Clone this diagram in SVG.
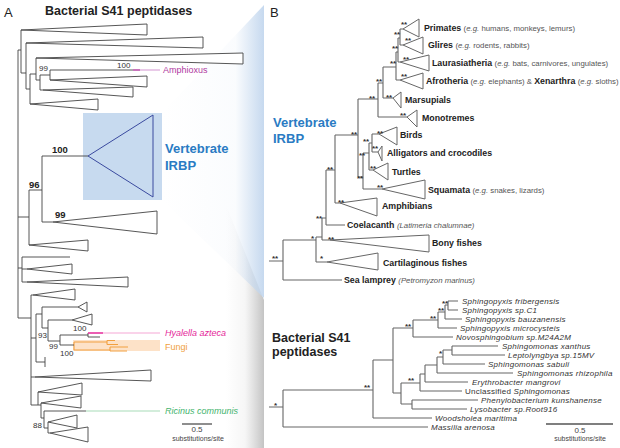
<svg xmlns="http://www.w3.org/2000/svg" width="620" height="448" viewBox="0 0 620 448">
<defs>
<linearGradient id="gBlue" gradientUnits="userSpaceOnUse" x1="162" y1="0" x2="264" y2="0">
<stop offset="0" stop-color="#c3d7ee" stop-opacity="0"/>
<stop offset="0.72" stop-color="#c3d7ee" stop-opacity="0.08"/>
<stop offset="1" stop-color="#c3d7ee" stop-opacity="0.95"/>
</linearGradient>
<linearGradient id="gGrey" gradientUnits="userSpaceOnUse" x1="226" y1="0" x2="264" y2="0">
<stop offset="0" stop-color="#c4c4c4" stop-opacity="0"/>
<stop offset="0.5" stop-color="#c4c4c4" stop-opacity="0.15"/>
<stop offset="1" stop-color="#bdbdbd" stop-opacity="0.9"/>
</linearGradient>
<style>
text{font-family:"Liberation Sans",Arial,Helvetica,sans-serif}
.ln{stroke:#444;stroke-width:0.9;fill:none}
.tri{stroke:#444;stroke-width:0.9;fill:#fff}
.lnB{stroke:#666;stroke-width:1.1;fill:none}
.triB{stroke:#666;stroke-width:1;fill:#fff}
.sup{font-size:8px;fill:#333}
.supb{font-size:9.5px;font-weight:bold;fill:#222}
.st{font-size:8px;font-weight:bold;fill:#333}
.lab{font-size:8.8px;font-weight:bold;fill:#222}
.par{font-size:7.8px;font-weight:normal;fill:#555}
.it{font-style:italic}
.sp{font-size:8px;font-style:italic;fill:#333;letter-spacing:0.25px}
.vb{font-size:13px;font-weight:bold;fill:#2a7bc3}
.ttl{font-size:12.5px;font-weight:bold;fill:#222}
.pl{font-size:13px;fill:#222}
.sc{font-size:8px;fill:#444;text-anchor:middle}
.sc2{font-size:7px;fill:#444;text-anchor:middle}
</style>
</defs>
<rect width="620" height="448" fill="#fff"/>

<g id="zoom-wedges">
<polygon points="226,205 264,300 264,448 226,448" fill="url(#gGrey)"/>
<polygon points="162,113 264,5 264,298 162,200" fill="url(#gBlue)"/>
</g>

<g id="panel-labels">
<text class="pl" x="4" y="17">A</text>
<text class="pl" x="270" y="17">B</text>
<text class="ttl" x="45" y="15">Bacterial S41 peptidases</text>
</g>

<g id="irbp-box">
<rect x="83" y="113" width="79" height="87" fill="#c7daef"/>
<polygon points="88,156 153,115 153,197" fill="none" stroke="#3a4a9f" stroke-width="1"/>
<text class="vb" x="165" y="153">Vertebrate</text>
<text class="vb" x="165" y="170">IRBP</text>
</g>

<g id="fungi-box">
<rect x="73" y="340" width="87" height="11" fill="#fde2c8"/>
<path d="M74,342V350M74,342H107M107,340.5V344.5M107,340.5H115M107,344.5H118M74,350H110M110,347V351M110,347H128M110,351H127" fill="none" stroke="#f2a040" stroke-width="1.1"/>
<text x="165" y="350" font-size="9" fill="#f0a040">Fungi</text>
</g>

<g id="connectors-A">
<path class="ln" d="M18,50V318M18,50H21M21,30V73M21,73H26M26,43V89M26,89H30M30,74V104M30,74H36M36,58V80M36,80H40M40,75V90M40,75H50M50,70V80M50,70H133M40,90H43
M18,217H29M29,190V245M29,190H42M42,156V222M42,156H88M42,222H53
M18,268H22M22,257V282M22,257H70M22,269H27M22,282H27
M18,318H31M31,295V405M31,295H33M31,338H36M36,314V362M36,314H42M42,307V328M42,307H78M42,328H48M48,320V341M48,320H72M48,341H60M60,335V345M60,335H88M88,333V337M88,337H100M60,345H74M36,362H45M45,357V367M31,377H35M31,405H38M38,392V405M38,405H41M41,403V418M41,418H44M44,411V428M44,411H86M44,428H48M48,422V433M48,433H50"/>
<path d="M133,70H140" stroke="#b0399f" stroke-width="1.4"/>
<path d="M140,70H160" stroke="#dba6d8" stroke-width="1.2"/>
<path d="M88,333H103" stroke="#e5279a" stroke-width="1.5"/>
<path d="M103,333H160" stroke="#f6a8d6" stroke-width="1.2"/>
<path d="M86,411H160" stroke="#a8dbb8" stroke-width="1.2"/>
</g>

<g id="clades-A">
<polygon class="tri" points="21,30 147,24 147,35"/>
<polygon class="tri" points="26,43 203,37 203,48"/>
<polygon class="tri" points="36,58 243,53 243,64"/>
<polygon class="tri" points="50,80 147,76 147,87"/>
<polygon class="tri" points="43,90 133,87 133,97"/>
<polygon class="tri" points="30,104 98,99 98,110"/>
<polygon class="tri" points="53,222 157,211 157,234"/>
<polygon class="tri" points="29,245 88,240 88,251"/>
<polygon class="tri" points="27,269 72,264 72,274"/>
<polygon class="tri" points="27,282 128,277 128,287"/>
<polygon class="tri" points="33,295 75,289 75,300"/>
<polygon class="tri" points="78,307 87,302 87,312"/>
<polygon class="tri" points="72,320 92,314 92,325"/>
<polygon class="tri" points="35,377 151,370 151,381"/>
<polygon class="tri" points="38,392 82,383 82,395"/>
<polygon class="tri" points="41,403 81,396 81,408"/>
<polygon class="tri" points="48,422 77,415 77,428"/>
<polygon class="tri" points="50,433 88,427 88,442"/>
</g>

<g id="labels-A">
<text class="sup" x="39" y="71">99</text>
<text class="sup" x="117" y="68">100</text>
<text x="163" y="73" font-size="9" fill="#b0399f">Amphioxus</text>
<text class="supb" x="52" y="153">100</text>
<text class="supb" x="29" y="188">96</text>
<text class="supb" x="55" y="218">99</text>
<text class="sup" x="38" y="338">93</text>
<text class="sup" x="73" y="331">100</text>
<text class="sup" x="49" y="349">99</text>
<text class="sup" x="60" y="356">100</text>
<text class="sup" x="33" y="428">88</text>
<text x="165" y="336" font-size="9" font-style="italic" fill="#e5279a">Hyalella azteca</text>
<text x="165" y="414" font-size="9" font-style="italic" fill="#45b46e">Ricinus communis</text>
</g>

<g id="scale-A">
<path d="M182,424H212" stroke="#444" stroke-width="1.2"/>
<text class="sc" x="197" y="432">0.5</text>
<text class="sc2" x="198" y="441">substitutions/site</text>
</g>

<g id="vertebrate-label-B">
<text class="vb" x="273" y="127">Vertebrate</text>
<text class="vb" x="273" y="143">IRBP</text>
</g>

<g id="connectors-B-vertebrate">
<path class="lnB" d="M269,261H283M283,240V280M283,280H342M283,240H316M316,237V262M316,262H327M316,237H322M322,218V240M322,240H330M322,218H326M326,170V225M326,225H345M326,170H335M335,135V203M335,203H340M335,135H358M358,99V177M358,177H363M358,99H378M378,83V117M378,117H407M378,83H383M383,67V98M383,98H393M383,67H396M396,52V80M396,80H400M396,52H398M398,38V62M398,62H400M398,38H400M400,29V45M400,29H403M400,45H403
M363,153V189M363,189H382M363,153H369M369,143V170M369,170H373M369,143H372M372,134V152M372,134H379M372,152H378"/>
</g>

<g id="clades-B">
<g id="primates"><polygon class="triB" points="403,29 419,19 419,37"/><text class="lab" x="424" y="31">Primates <tspan class="par">(<tspan class="it">e.g.</tspan> humans, monkeys, lemurs)</tspan></text></g>
<g id="glires"><polygon class="triB" points="403,45 423,37 423,54"/><text class="lab" x="428" y="48">Glires <tspan class="par">(<tspan class="it">e.g.</tspan> rodents, rabbits)</tspan></text></g>
<g id="laurasiatheria"><polygon class="triB" points="400,62 429,55 429,71"/><text class="lab" x="432" y="66">Laurasiatheria <tspan class="par">(<tspan class="it">e.g.</tspan> bats, carnivores, ungulates)</tspan></text></g>
<g id="afrotheria"><polygon class="triB" points="400,80 423,73 423,89"/><text class="lab" x="426" y="84">Afrotheria <tspan class="par">(<tspan class="it">e.g.</tspan> elephants) &amp; </tspan>Xenarthra <tspan class="par">(<tspan class="it">e.g.</tspan> sloths)</tspan></text></g>
<g id="marsupials"><polygon class="triB" points="393,98 401,92 401,108"/><text class="lab" x="405" y="103">Marsupials</text></g>
<g id="monotremes"><polygon class="triB" points="407,117 417,110 417,127"/><text class="lab" x="422" y="121">Monotremes</text></g>
<g id="birds"><polygon class="triB" points="379,134 397,127 397,145"/><text class="lab" x="400" y="138">Birds</text></g>
<g id="alligators"><polygon class="triB" points="378,152 382,146 382,161"/><text class="lab" x="387" y="156">Alligators and crocodiles</text></g>
<g id="turtles"><polygon class="triB" points="373,170 388,163 388,180"/><text class="lab" x="392" y="175">Turtles</text></g>
<g id="squamata"><polygon class="triB" points="382,189 425,180 425,199"/><text class="lab" x="428" y="193">Squamata <tspan class="par">(<tspan class="it">e.g.</tspan> snakes, lizards)</tspan></text></g>
<g id="amphibians"><polygon class="triB" points="340,203 377,198 377,216"/><text class="lab" x="382" y="209">Amphibians</text></g>
<g id="coelacanth"><text class="lab" x="347" y="228">Coelacanth <tspan class="par it" font-size="8.2">(Latimeria chalumnae)</tspan></text></g>
<g id="bony-fishes"><polygon class="triB" points="330,240 429,235 429,252"/><text class="lab" x="432" y="246">Bony fishes</text></g>
<g id="cartilaginous"><polygon class="triB" points="327,262 378,253 378,270"/><text class="lab" x="383" y="266">Cartilaginous fishes</text></g>
<g id="lamprey"><text class="lab" x="344" y="283">Sea lamprey <tspan class="par it" font-size="8.2">(Petromyzon marinus)</tspan></text></g>
</g>

<g id="support-B-vertebrate">
<text class="st" x="401" y="27">**</text>
<text class="st" x="405" y="43">**</text>
<text class="st" x="403" y="62">**</text>
<text class="st" x="401" y="79">**</text>
<text class="st" x="394" y="37">**</text>
<text class="st" x="392" y="51">**</text>
<text class="st" x="390" y="66">**</text>
<text class="st" x="376" y="84">**</text>
<text class="st" x="386" y="100">**</text>
<text class="st" x="369" y="101">**</text>
<text class="st" x="400" y="118">**</text>
<text class="st" x="351" y="137">**</text>
<text class="st" x="377" y="136">**</text>
<text class="st" x="363" y="144">**</text>
<text class="st" x="372" y="151">**</text>
<text class="st" x="359" y="158">**</text>
<text class="st" x="370" y="171">**</text>
<text class="st" x="327" y="172">**</text>
<text class="st" x="357" y="181">**</text>
<text class="st" x="377" y="190">**</text>
<text class="st" x="338" y="205">**</text>
<text class="st" x="316" y="221">**</text>
<text class="st" x="311" y="241">*</text>
<text class="st" x="328" y="242">**</text>
<text class="st" x="320" y="261">*</text>
<text class="st" x="272" y="261">**</text>
</g>

<g id="bacterial-label-B">
<text class="ttl" x="272" y="342">Bacterial S41</text>
<text class="ttl" x="272" y="356">peptidases</text>
</g>

<g id="connectors-B-bacterial">
<path class="lnB" d="M269,407H283M283,390V427M283,427H428M283,390H373M373,360V418M373,418H432M373,360H393M393,328V393M393,393H401M393,328H413M413,320V337M413,337H453M413,320H438M438,312V328M438,328H457M438,312H445M445,305V319M445,319H462M445,305H448M448,301V310M448,301H458M448,310H458
M401,383V404M401,404H412M412,400V409M412,400H478M412,409H467M401,383H420M420,374V391M420,391H462M420,374H425M425,365V382M425,382H468M425,365H437M437,357V373M437,373H513M437,357H443M443,350V364M443,364H485M443,350H452M452,346V355M452,346H498M452,355H505"/>
</g>

<g id="taxa-B-bacterial">
<text class="sp" x="462" y="304">Sphingopyxis fribergensis</text>
<text class="sp" x="462" y="313">Sphingopyxis sp.C1</text>
<text class="sp" x="465" y="322">Sphingopyxis bauzanensis</text>
<text class="sp" x="460" y="331">Sphingopyxis microcysteis</text>
<text class="sp" x="456" y="340">Novosphingobium sp.M24A2M</text>
<text class="sp" x="502" y="349">Sphingomonas xanthus</text>
<text class="sp" x="508" y="358">Leptolyngbya sp.15MV</text>
<text class="sp" x="488" y="367">Sphingomonas sabuli</text>
<text class="sp" x="517" y="376">Sphingomonas rhizophila</text>
<text class="sp" x="472" y="385">Erythrobacter mangrovi</text>
<text class="sp" x="465" y="394"><tspan font-style="normal">Unclassified </tspan>Sphingomonas</text>
<text class="sp" x="481" y="403">Phenylobacterium kunshanense</text>
<text class="sp" x="470" y="412">Lysobacter sp.Root916</text>
<text class="sp" x="435" y="421">Woodsholea maritima</text>
<text class="sp" x="431" y="430">Massilia arenosa</text>
</g>

<g id="support-B-bacterial">
<text class="st" x="274" y="408">*</text>
<text class="st" x="364" y="390">**</text>
<text class="st" x="405" y="329">**</text>
<text class="st" x="430" y="321">**</text>
<text class="st" x="438" y="313">**</text>
<text class="st" x="442" y="306">**</text>
<text class="st" x="408" y="383">**</text>
<text class="st" x="439" y="356">*</text>
</g>

<g id="scale-B">
<path d="M546,424H613" stroke="#555" stroke-width="1.4"/>
<text class="sc" x="580" y="433">0.5</text>
<text class="sc2" x="580" y="441">substitutions/site</text>
</g>
</svg>
